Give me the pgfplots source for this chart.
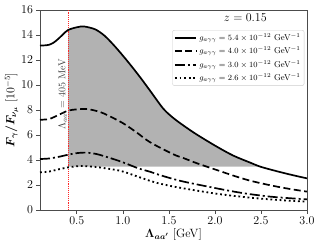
\documentclass[border=0pt]{standalone}
\usepackage{pgfplots}
\pgfplotsset{compat=1.18}
\usepackage{bm}
\begin{document}
\begin{tikzpicture}
\begin{axis}[
  scale only axis, width=267pt, height=200pt,
  xmin=0.1, xmax=3.0, ymin=0, ymax=16,
  xtick={0.5,1.0,1.5,2.0,2.5,3.0}, ytick={0,2,4,6,8,10,12,14,16},
  xticklabel style={/pgf/number format/fixed,/pgf/number format/fixed zerofill,/pgf/number format/precision=1},
  tick label style={font=\fontsize{12}{14}\selectfont},
  tick pos=left, tick align=outside, major tick length=3.5pt,
  every tick/.style={black!70, line width=0.7pt},
  axis line style={black!70, line width=0.8pt},
  xlabel={$\bm{\Lambda_{aa'}}$ [GeV]},
  ylabel={$\bm{F_\gamma/F_{\nu_\mu}}$ $[10^{-5}]$},
  label style={font=\fontsize{12}{14}\selectfont},
  xlabel style={yshift=3pt},
  ylabel style={yshift=-4pt},
  legend style={at={(rel axis cs:0.99,0.9)}, anchor=north east, draw=black!20, rounded corners=2pt, font=\fontsize{8.5}{10}\selectfont, inner sep=1.5pt, row sep=1.2pt},
  legend cell align=left,
  legend image code/.code={\draw[#1, line width=2pt] (0cm,0cm) -- (0.75cm,0cm);},
  clip=true,
]
\addplot[fill=black!30, draw=none, forget plot] coordinates {
(0.405,3.47) (0.405,14.4) (0.5,14.62) (0.58,14.68) (0.7,14.45) (0.8,13.95) (0.9,13.2) (1.0,12.35) (1.1,11.45) (1.2,10.5) (1.3,9.5) (1.44,8.1) (1.55,7.35) (1.66,6.75) (1.8,6.05) (2.02,5.07) (2.2,4.35) (2.38,3.8) (2.49,3.47)
} -- cycle;
\addplot[red!85, densely dotted, line width=0.9pt, forget plot] coordinates {(0.405,0) (0.405,16)};
\addplot[black, line width=1.7pt, smooth] coordinates {
(0.1,13.15) (0.15,13.17) (0.2,13.22) (0.25,13.4) (0.3,13.7) (0.35,14.05) (0.405,14.4) (0.5,14.62) (0.58,14.68) (0.7,14.45) (0.8,13.95) (0.9,13.2) (1.0,12.35) (1.1,11.45) (1.2,10.5) (1.3,9.5) (1.44,8.1) (1.55,7.35) (1.66,6.75) (1.8,6.05) (2.02,5.07) (2.2,4.35) (2.38,3.8) (2.5,3.45) (2.7,3.05) (2.85,2.78) (3.0,2.53)
};
\addlegendentry{$g_{a\gamma\gamma} = 5.4 \times 10^{-12}$ GeV$^{-1}$}
\addplot[black, line width=1.7pt, smooth, dash pattern=on 7pt off 3.5pt] coordinates {
(0.1,7.22) (0.2,7.28) (0.3,7.6) (0.405,7.95) (0.5,8.05) (0.6,8.08) (0.7,7.95) (0.8,7.7) (1.0,6.95) (1.15,6.2) (1.3,5.4) (1.55,4.45) (1.66,4.15) (1.8,3.75) (2.02,3.2) (2.2,2.75) (2.38,2.35) (2.6,1.98) (2.8,1.7) (3.0,1.47)
};
\addlegendentry{$g_{a\gamma\gamma} = 4.0 \times 10^{-12}$ GeV$^{-1}$}
\addplot[black, line width=1.7pt, smooth, dash pattern=on 10pt off 3pt on 2pt off 3pt] coordinates {
(0.1,4.08) (0.2,4.12) (0.3,4.25) (0.405,4.42) (0.5,4.55) (0.6,4.59) (0.7,4.5) (0.8,4.3) (0.98,3.87) (1.17,3.33) (1.3,3.05) (1.37,2.87) (1.5,2.58) (1.66,2.27) (2.02,1.73) (2.2,1.48) (2.38,1.27) (2.6,1.07) (2.8,0.95) (3.0,0.85)
};
\addlegendentry{$g_{a\gamma\gamma} = 3.0 \times 10^{-12}$ GeV$^{-1}$}
\addplot[black, line width=1.8pt, smooth, dash pattern=on 1.8pt off 2.8pt] coordinates {
(0.1,3.01) (0.2,3.08) (0.3,3.25) (0.405,3.41) (0.5,3.5) (0.55,3.52) (0.7,3.45) (0.8,3.35) (0.98,3.12) (1.17,2.65) (1.3,2.32) (1.37,2.17) (1.5,1.95) (1.66,1.73) (2.02,1.3) (2.38,0.99) (2.6,0.85) (2.8,0.75) (3.0,0.67)
};
\addlegendentry{$g_{a\gamma\gamma} = 2.6 \times 10^{-12}$ GeV$^{-1}$}
\node[font=\fontsize{12}{14}\selectfont] at (axis cs:2.33,15.36) {$z = 0.15$};
\node[rotate=90, anchor=south, font=\fontsize{10}{12}\selectfont, text=black!75, inner sep=1pt] at (axis cs:0.405,9.25) {$\Lambda_{aa'} = 405$ MeV};
\end{axis}
\path ([xshift=-40pt,yshift=-37pt]current axis.south west) rectangle ([xshift=14pt,yshift=10pt]current axis.north east);
\end{tikzpicture}
\end{document}
